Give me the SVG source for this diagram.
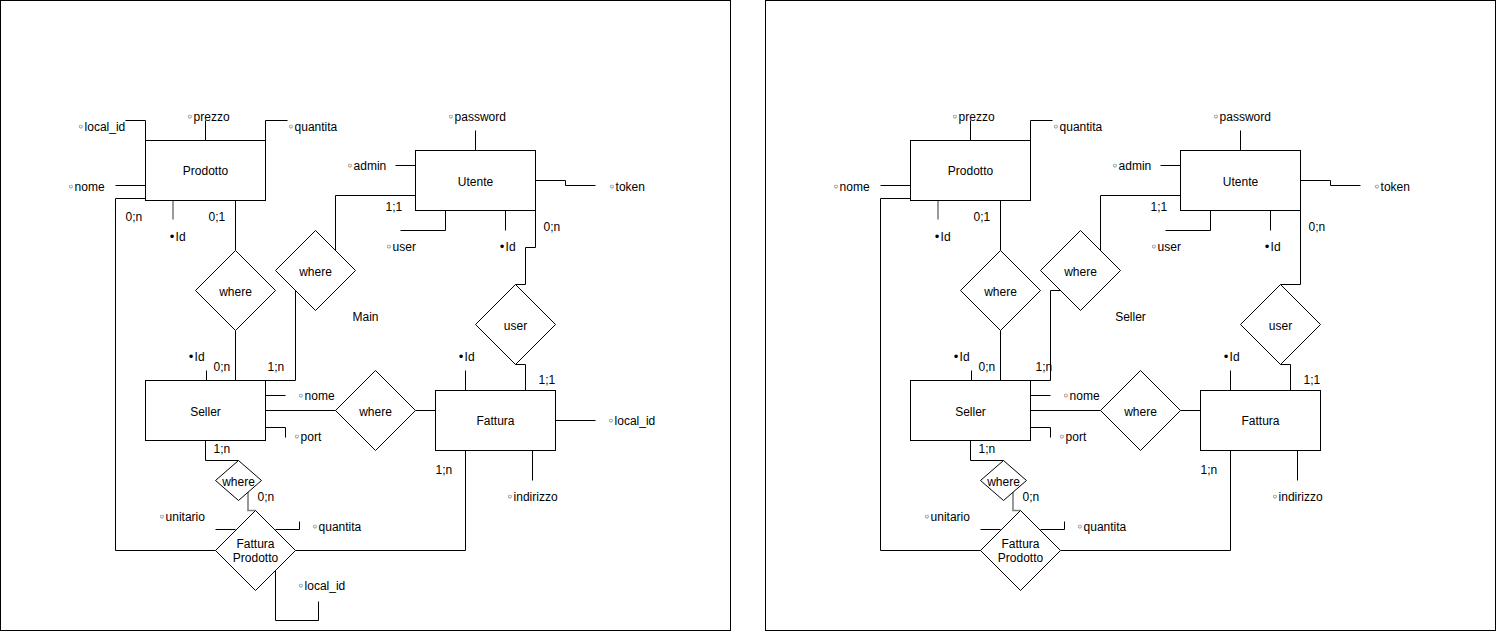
<svg xmlns="http://www.w3.org/2000/svg" width="1496" height="632" viewBox="0 0 1496 632">
<style>
.frame{fill:#fff;stroke:#000;stroke-width:1}
.n{fill:#fff;stroke:#000;stroke-width:1}
.c{fill:none;stroke:#000;stroke-width:1}
.g{fill:none;stroke:#808080;stroke-width:1.6}
text{font-family:"Liberation Sans",Arial,Helvetica,sans-serif;font-size:12px;fill:#000}
.b{font-family:"DejaVu Sans",sans-serif}
.m{text-anchor:middle}
</style>
<rect width="1496" height="632" fill="#fff"/>
<g transform="translate(0.5,0.5)">
<!-- LEFT PANEL -->
<g id="left-panel">
<rect class="frame" x="0" y="0" width="730" height="630"/>
<g id="left-connectors">
<path class="c" d="M145,140V120H125"/>
<path class="c" d="M205,140V120"/>
<path class="c" d="M265,140V120H287"/>
<path class="c" d="M115,185H145"/>
<path class="c" d="M145,198H115V550H215"/>
<path class="g" d="M172.5,200V219"/>
<path class="c" d="M235,200V250"/>
<path class="c" d="M235,330V380"/>
<path class="c" d="M415,195H335V250"/>
<path class="c" d="M295,290V380H265"/>
<path class="c" d="M395,165H415"/>
<path class="c" d="M475,150V130"/>
<path class="c" d="M535,180H565V185H595"/>
<path class="c" d="M445,210V230H400"/>
<path class="c" d="M505,210V230"/>
<path class="c" d="M535,210V247H525V284H515"/>
<path class="c" d="M515,364H525V390"/>
<path class="c" d="M465,370V390"/>
<path class="c" d="M206,370V380"/>
<path class="c" d="M265,395H285"/>
<path class="c" d="M265,410H335"/>
<path class="c" d="M265,427H285V437"/>
<path class="c" d="M415,410H435"/>
<path class="c" d="M555,420H595"/>
<path class="c" d="M532,450V480"/>
<path class="c" d="M465,450V550H295"/>
<path class="c" d="M205,440V460H238"/>
<path class="g" d="M247.5,490V510H255"/>
<path class="c" d="M215,529H235"/>
<path class="c" d="M275,529H299V521"/>
<path class="c" d="M275,570V620H318V601"/>
</g>
<g id="l-prodotto"><rect class="n" x="145" y="140" width="120" height="60"/><text class="m" x="205" y="174">Prodotto</text></g>
<g id="l-utente"><rect class="n" x="415" y="150" width="120" height="60"/><text class="m" x="475" y="185">Utente</text></g>
<g id="l-seller"><rect class="n" x="145" y="380" width="120" height="60"/><text class="m" x="205" y="415">Seller</text></g>
<g id="l-fattura"><rect class="n" x="435" y="390" width="120" height="60"/><text class="m" x="495" y="424">Fattura</text></g>
<g id="l-where1"><polygon class="n" points="235,250 275,290 235,330 195,290"/><text class="m" x="235" y="295">where</text></g>
<g id="l-where2"><polygon class="n" points="315,230 355,270 315,310 275,270"/><text class="m" x="315" y="275">where</text></g>
<g id="l-user"><polygon class="n" points="515,284 555,324 515,364 475,324"/><text class="m" x="515" y="329">user</text></g>
<g id="l-where3"><polygon class="n" points="375,370 415,410 375,450 335,410"/><text class="m" x="375" y="415">where</text></g>
<g id="l-where4"><polygon class="n" points="238,460 261,480 238,500 215,480"/><text class="m" x="238" y="485">where</text></g>
<g id="l-fattura-prodotto"><polygon class="n" points="255,510 295,550 255,590 215,550"/><text class="m" x="255" y="547">Fattura</text><text class="m" x="255" y="561">Prodotto</text></g>
<g id="l-labels">
<text x="77" y="130"><tspan class="b">◦</tspan>local_id</text>
<text x="186" y="120"><tspan class="b">◦</tspan>prezzo</text>
<text x="287" y="130"><tspan class="b">◦</tspan>quantita</text>
<text x="67" y="190"><tspan class="b">◦</tspan>nome</text>
<text x="125" y="220">0;n</text>
<text x="208" y="220">0;1</text>
<text x="168" y="240"><tspan class="b">•</tspan>Id</text>
<text x="447" y="120"><tspan class="b">◦</tspan>password</text>
<text x="346" y="169"><tspan class="b">◦</tspan>admin</text>
<text x="608" y="190"><tspan class="b">◦</tspan>token</text>
<text x="385" y="210">1;1</text>
<text x="385" y="250"><tspan class="b">◦</tspan>user</text>
<text x="498" y="250"><tspan class="b">•</tspan>Id</text>
<text x="543" y="230">0;n</text>
<text class="m" x="365" y="320">Main</text>
<text x="187" y="360"><tspan class="b">•</tspan>Id</text>
<text x="213" y="370">0;n</text>
<text x="267" y="370">1;n</text>
<text x="297" y="399"><tspan class="b">◦</tspan>nome</text>
<text x="293" y="440"><tspan class="b">◦</tspan>port</text>
<text x="457" y="360"><tspan class="b">•</tspan>Id</text>
<text x="538" y="383">1;1</text>
<text x="607" y="424"><tspan class="b">◦</tspan>local_id</text>
<text x="435" y="473">1;n</text>
<text x="506" y="500"><tspan class="b">◦</tspan>indirizzo</text>
<text x="213" y="452">1;n</text>
<text x="257" y="500">0;n</text>
<text x="158" y="520"><tspan class="b">◦</tspan>unitario</text>
<text x="311" y="530"><tspan class="b">◦</tspan>quantita</text>
<text x="297" y="589"><tspan class="b">◦</tspan>local_id</text>
</g>
</g>
<!-- RIGHT PANEL -->
<g id="right-panel" transform="translate(765,0)">
<rect class="frame" x="0" y="0" width="730" height="630"/>
<g id="right-connectors">
<path class="c" d="M205,140V120"/>
<path class="c" d="M265,140V120H287"/>
<path class="c" d="M115,185H145"/>
<path class="c" d="M145,198H115V550H215"/>
<path class="g" d="M172.5,200V219"/>
<path class="c" d="M235,200V250"/>
<path class="c" d="M235,330V380"/>
<path class="c" d="M415,195H335V250"/>
<path class="c" d="M295,290H285V380H265"/>
<path class="c" d="M395,165H415"/>
<path class="c" d="M475,150V130"/>
<path class="c" d="M535,180H565V185H595"/>
<path class="c" d="M445,210V230H400"/>
<path class="c" d="M505,210V230"/>
<path class="c" d="M535,210V284H515"/>
<path class="c" d="M515,364H525V390"/>
<path class="c" d="M465,370V390"/>
<path class="c" d="M206,370V380"/>
<path class="c" d="M265,395H285"/>
<path class="c" d="M265,410H335"/>
<path class="c" d="M265,427H285V437"/>
<path class="c" d="M415,410H435"/>
<path class="c" d="M532,450V480"/>
<path class="c" d="M465,450V550H295"/>
<path class="c" d="M205,440V460H238"/>
<path class="g" d="M247.5,490V510H255"/>
<path class="c" d="M215,529H235"/>
<path class="c" d="M275,529H299V521"/>
</g>
<g id="r-prodotto"><rect class="n" x="145" y="140" width="120" height="60"/><text class="m" x="205" y="174">Prodotto</text></g>
<g id="r-utente"><rect class="n" x="415" y="150" width="120" height="60"/><text class="m" x="475" y="185">Utente</text></g>
<g id="r-seller"><rect class="n" x="145" y="380" width="120" height="60"/><text class="m" x="205" y="415">Seller</text></g>
<g id="r-fattura"><rect class="n" x="435" y="390" width="120" height="60"/><text class="m" x="495" y="424">Fattura</text></g>
<g id="r-where1"><polygon class="n" points="235,250 275,290 235,330 195,290"/><text class="m" x="235" y="295">where</text></g>
<g id="r-where2"><polygon class="n" points="315,230 355,270 315,310 275,270"/><text class="m" x="315" y="275">where</text></g>
<g id="r-user"><polygon class="n" points="515,284 555,324 515,364 475,324"/><text class="m" x="515" y="329">user</text></g>
<g id="r-where3"><polygon class="n" points="375,370 415,410 375,450 335,410"/><text class="m" x="375" y="415">where</text></g>
<g id="r-where4"><polygon class="n" points="238,460 261,480 238,500 215,480"/><text class="m" x="238" y="485">where</text></g>
<g id="r-fattura-prodotto"><polygon class="n" points="255,510 295,550 255,590 215,550"/><text class="m" x="255" y="547">Fattura</text><text class="m" x="255" y="561">Prodotto</text></g>
<g id="r-labels">
<text x="186" y="120"><tspan class="b">◦</tspan>prezzo</text>
<text x="287" y="130"><tspan class="b">◦</tspan>quantita</text>
<text x="67" y="190"><tspan class="b">◦</tspan>nome</text>
<text x="208" y="220">0;1</text>
<text x="168" y="240"><tspan class="b">•</tspan>Id</text>
<text x="447" y="120"><tspan class="b">◦</tspan>password</text>
<text x="346" y="169"><tspan class="b">◦</tspan>admin</text>
<text x="608" y="190"><tspan class="b">◦</tspan>token</text>
<text x="385" y="210">1;1</text>
<text x="385" y="250"><tspan class="b">◦</tspan>user</text>
<text x="498" y="250"><tspan class="b">•</tspan>Id</text>
<text x="543" y="230">0;n</text>
<text class="m" x="365" y="320">Seller</text>
<text x="187" y="360"><tspan class="b">•</tspan>Id</text>
<text x="213" y="370">0;n</text>
<text x="270" y="370">1;n</text>
<text x="297" y="399"><tspan class="b">◦</tspan>nome</text>
<text x="293" y="440"><tspan class="b">◦</tspan>port</text>
<text x="457" y="360"><tspan class="b">•</tspan>Id</text>
<text x="538" y="383">1;1</text>
<text x="435" y="473">1;n</text>
<text x="506" y="500"><tspan class="b">◦</tspan>indirizzo</text>
<text x="213" y="452">1;n</text>
<text x="257" y="500">0;n</text>
<text x="158" y="520"><tspan class="b">◦</tspan>unitario</text>
<text x="311" y="530"><tspan class="b">◦</tspan>quantita</text>
</g>
</g>
</g>
</svg>
